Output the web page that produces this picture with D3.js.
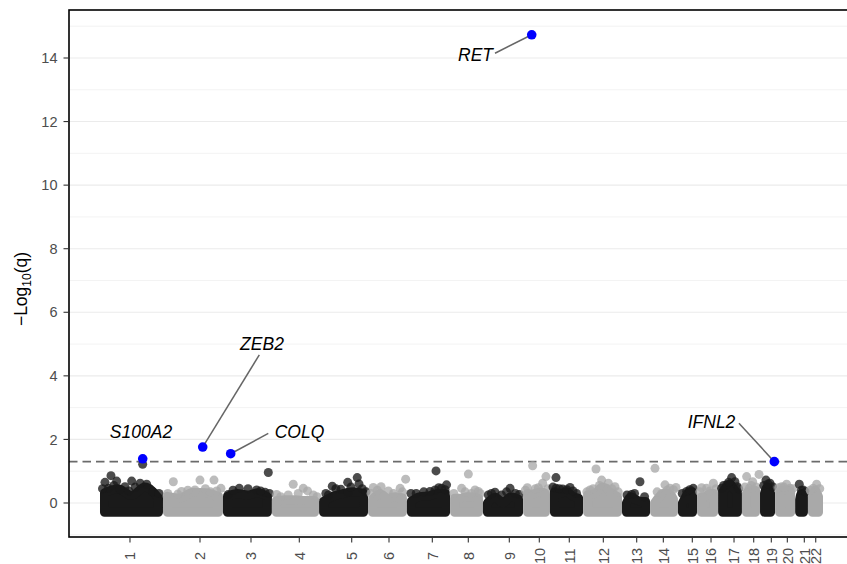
<!DOCTYPE html>
<html>
<head>
<meta charset="utf-8">
<script src="https://cdn.jsdelivr.net/npm/d3@7"></script>
<style>
  body { margin: 0; background: #fff; }
  text { font-family: "Liberation Sans", Arial, Helvetica, sans-serif; }
</style>
</head>
<body>
<svg id="chart" width="847" height="564"></svg>
<script>
// chromosomes, cumulative position (Mb-like units)
var chroms   = d3.range(1, 23).map(String);
var chrStart = [0, 251, 490, 685, 873, 1068, 1223, 1395, 1526, 1686, 1793, 1925, 2080, 2192, 2303, 2379, 2463, 2558, 2630, 2690, 2770, 2821];
var chrEnd   = [251, 490, 685, 873, 1068, 1223, 1395, 1526, 1686, 1793, 1925, 2080, 2192, 2303, 2379, 2463, 2558, 2630, 2690, 2770, 2821, 2881];
var chrTick  = [119.5, 398.5, 601.7, 794.2, 1003, 1151.6, 1324.2, 1467.6, 1631, 1750.5, 1870, 2005.6, 2138.6, 2244.7, 2360.2, 2434.8, 2526.4, 2604.9, 2675, 2738.8, 2806.5, 2852];

// upper envelope of the dense point cloud, per chromosome (-log10 q)
var coreTop = [
  [0.32, 0.45, 0.24, 0.50, 0.16],
  [0.21, 0.16, 0.34, 0.32, 0.21],
  [0.21, 0.30, 0.25, 0.32, 0.20],
  [0.07, 0.10, 0.10, 0.08, 0.08],
  [0.05, 0.22, 0.30, 0.35, 0.30],
  [0.12, 0.30, 0.15, 0.20, 0.16],
  [0.06, 0.20, 0.22, 0.30, 0.30],
  [0.15, 0.15, 0.20, 0.20, 0.15],
  [0.00, 0.18, 0.00, 0.20, 0.12],
  [0.30, 0.28, 0.32, 0.35, 0.30],
  [0.35, 0.30, 0.35, 0.22, 0.15],
  [0.25, 0.30, 0.50, 0.35, 0.20],
  [0.00, 0.20, 0.10, 0.05, 0.05],
  [0.00, 0.20, 0.30, 0.30, 0.12],
  [0.00, 0.15, 0.30, 0.35, 0.35],
  [0.20, 0.20, 0.25, 0.30, 0.30],
  [0.35, 0.50, 0.60, 0.45, 0.30],
  [0.30, 0.38, 0.38, 0.42, 0.40],
  [0.30, 0.45, 0.50, 0.40, 0.30],
  [0.35, 0.40, 0.42, 0.40, 0.35],
  [0.10, 0.25, 0.30, 0.25, 0.20],
  [0.20, 0.35, 0.40, 0.30, 0.20]
];
var coreBottom = -0.29;

// individual SNPs standing out of the cloud: [chromosome, position, -log10 q]
var snps = [
  [1, 43.8, 0.86], [1, 19.9, 0.65], [1, 66.4, 0.69], [1, 126.2, 0.69], [1, 170, 1.22], [1, 186, 0.59], [1, 33, 0.46], [1, 99.6, 0.51],
  [1, 10, 0.45], [1, 55, 0.55], [1, 80, 0.42], [1, 115, 0.38], [1, 140, 0.5], [1, 160, 0.62], [1, 210, 0.35], [1, 235, 0.3],
  [2, 292.2, 0.67], [2, 398.4, 0.72], [2, 454.2, 0.72], [2, 378.5, 0.41], [2, 482, 0.46], [2, 325, 0.36],
  [2, 270, 0.3], [2, 310, 0.28], [2, 350, 0.4], [2, 420, 0.45], [2, 440, 0.35], [2, 465, 0.38],
  [3, 670.7, 0.96], [3, 555, 0.46], [3, 624, 0.41], [3, 657.4, 0.34], [3, 511, 0.27],
  [3, 530, 0.4], [3, 590, 0.45], [3, 640, 0.38], [3, 675, 0.3],
  [4, 770, 0.59], [4, 810, 0.46], [4, 827, 0.38], [4, 704, 0.27], [4, 750, 0.25],
  [4, 720, 0.2], [4, 790, 0.3], [4, 850, 0.25], [4, 865, 0.2],
  [5, 925.6, 0.53], [5, 960, 0.43], [5, 987, 0.65], [5, 1025, 0.80], [5, 1032, 0.60], [5, 989, 0.34], [5, 910, 0.25],
  [5, 900, 0.3], [5, 940, 0.45], [5, 1000, 0.5], [5, 1045, 0.45], [5, 1060, 0.35],
  [6, 1089, 0.49], [6, 1120, 0.51], [6, 1218, 0.75], [6, 1196, 0.46], [6, 1149, 0.38],
  [6, 1080, 0.3], [6, 1105, 0.4], [6, 1170, 0.3], [6, 1205, 0.35],
  [7, 1239, 0.30], [7, 1335, 0.41], [7, 1339, 1.01], [7, 1381, 0.57], [7, 1315, 0.36], [7, 1361, 0.46],
  [7, 1260, 0.3], [7, 1290, 0.35], [7, 1350, 0.48], [7, 1375, 0.42],
  [8, 1467.8, 0.91], [8, 1494.4, 0.41], [8, 1441, 0.46], [8, 1507.5, 0.36],
  [8, 1410, 0.3], [8, 1455, 0.35], [8, 1480, 0.3], [8, 1515, 0.3],
  [9, 1574, 0.34], [9, 1634, 0.46], [9, 1671, 0.27], [9, 1547.5, 0.25],
  [9, 1560, 0.3], [9, 1600, 0.25], [9, 1620, 0.35], [9, 1655, 0.3],
  [10, 1724, 1.17], [10, 1703, 0.48], [10, 1746.7, 0.48], [10, 1777, 0.83], [10, 1764, 0.62],
  [10, 1695, 0.4], [10, 1735, 0.45], [10, 1785, 0.45],
  [11, 1817, 0.80], [11, 1817, 0.46], [11, 1843.6, 0.44], [11, 1873, 0.49], [11, 1899, 0.30],
  [11, 1805, 0.5], [11, 1830, 0.45], [11, 1860, 0.42], [11, 1885, 0.38],
  [12, 1976.4, 1.07], [12, 1999, 0.72], [12, 1952.5, 0.41], [12, 2052, 0.51], [12, 2019, 0.46], [12, 2025.6, 0.62],
  [12, 1940, 0.35], [12, 1965, 0.45], [12, 1990, 0.55], [12, 2040, 0.45], [12, 2065, 0.35],
  [13, 2151.7, 0.67], [13, 2118.5, 0.27], [13, 2100, 0.25], [13, 2130, 0.3], [13, 2170, 0.2],
  [14, 2211.5, 1.09], [14, 2251.3, 0.57], [14, 2295, 0.49], [14, 2238, 0.30], [14, 2271, 0.46],
  [14, 2220, 0.35], [14, 2260, 0.4], [14, 2285, 0.42],
  [15, 2337.6, 0.36], [15, 2364, 0.46], [15, 2320, 0.3], [15, 2350, 0.42],
  [16, 2397.4, 0.48], [16, 2444, 0.62], [16, 2417, 0.46], [16, 2390, 0.35], [16, 2430, 0.38], [16, 2455, 0.45],
  [17, 2517, 0.80], [17, 2530, 0.67], [17, 2497, 0.57], [17, 2539.5, 0.51], [17, 2477, 0.46],
  [17, 2485, 0.55], [17, 2505, 0.65], [17, 2545, 0.45],
  [18, 2576.7, 0.83], [18, 2600.6, 0.67], [18, 2626, 0.90], [18, 2587, 0.46],
  [18, 2570, 0.5], [18, 2595, 0.55], [18, 2615, 0.5],
  [19, 2653.7, 0.72], [19, 2669.6, 0.62], [19, 2680, 0.51], [19, 2645, 0.55], [19, 2662, 0.6],
  [20, 2716, 0.51], [20, 2749, 0.46], [20, 2736, 0.59], [20, 2705, 0.48], [20, 2725, 0.5], [20, 2760, 0.45],
  [21, 2786.5, 0.59], [21, 2802, 0.41], [21, 2795, 0.4], [21, 2812, 0.35],
  [22, 2855.6, 0.59], [22, 2842, 0.46], [22, 2830, 0.4], [22, 2868, 0.45]
];

// significant genes
var hitGene = ["S100A2", "ZEB2", "COLQ", "RET", "IFNL2"];
var hitPos  = [170.2, 409.3, 520.8, 1720.3, 2687];
var hitVal  = [1.39, 1.76, 1.55, 14.73, 1.30];
// where the repelled labels ended up, and where their leader lines start
var labelPos = [163.4, 645.6, 795, 1496.4, 2436.8];
var labelVal = [2.23, 5.00, 2.25, 14.09, 2.56];
var segPos   = [null, 634.8, 670.7, 1574, 2546];
var segVal   = [null, 4.66, 2.19, 14.15, 2.51];

var yTicks = [0, 2, 4, 6, 8, 10, 12, 14];
var yMinor = [-1, 1, 3, 5, 7, 9, 11, 13, 15];
var qCut = -Math.log10(0.05);

var svg = d3.select("#chart");
var r = 4.5;

var x = d3.scaleLinear().domain([-123.5, 3004.5]).range([69, 854]);
var y = d3.scaleLinear().domain([-1.07, 15.51]).range([537, 10]);

var colDark = "#1a1a1a", colLight = "#a9a9a9";
function chrCol(c) { return c % 2 === 1 ? colDark : colLight; }

// grid
svg.append("g").selectAll("line").data(yMinor).join("line")
    .attr("x1", 69).attr("x2", 854)
    .attr("y1", d => y(d)).attr("y2", d => y(d))
    .attr("stroke", "#ebebeb").attr("stroke-width", 0.6);
svg.append("g").selectAll("line").data(yTicks).join("line")
    .attr("x1", 69).attr("x2", 854)
    .attr("y1", d => y(d)).attr("y2", d => y(d))
    .attr("stroke", "#ebebeb").attr("stroke-width", 1.1);

// significance threshold
svg.append("line")
    .attr("x1", 69).attr("x2", 854)
    .attr("y1", y(qCut)).attr("y2", y(qCut))
    .attr("stroke", "#6b6b6b").attr("stroke-width", 1.6)
    .attr("stroke-dasharray", "8.5,5");

// point cloud, chromosome by chromosome
var plot = svg.append("g");
chroms.forEach(function(name, i) {
  var c = i + 1, col = chrCol(c);
  var px0 = x(chrStart[i]) + r, px1 = x(chrEnd[i]) - r;
  var prof = coreTop[i];
  var pts = prof.map((v, j) => [px0 + (px1 - px0) * j / (prof.length - 1), v]);
  var area = d3.area()
      .x(d => d[0]).y0(y(coreBottom)).y1(d => y(d[1]))
      .curve(d3.curveMonotoneX);
  plot.append("path")
      .attr("d", area(pts))
      .attr("fill", col).attr("stroke", col)
      .attr("stroke-width", 2 * r).attr("stroke-linejoin", "round");
  plot.append("g").selectAll("circle")
      .data(snps.filter(s => s[0] === c)).join("circle")
      .attr("cx", d => x(d[1])).attr("cy", d => y(d[2])).attr("r", r)
      .attr("fill", col).attr("fill-opacity", 0.78);
});

// leader lines and labels
var hits = hitGene.map((g, i) => ({gene: g, pos: hitPos[i], val: hitVal[i],
  lp: labelPos[i], lv: labelVal[i], sp: segPos[i], sv: segVal[i]}));

svg.append("g").selectAll("line").data(hits.filter(d => d.sp !== null)).join("line")
    .attr("x1", d => x(d.sp)).attr("y1", d => y(d.sv))
    .attr("x2", d => x(d.pos)).attr("y2", d => y(d.val))
    .attr("stroke", "#666").attr("stroke-width", 1.5);

svg.append("g").selectAll("circle").data(hits).join("circle")
    .attr("cx", d => x(d.pos)).attr("cy", d => y(d.val)).attr("r", r + 0.3)
    .attr("fill", "#0000ff");

svg.append("g").selectAll("text").data(hits).join("text")
    .attr("x", d => x(d.lp)).attr("y", d => y(d.lv))
    .attr("dy", "0.36em")
    .attr("text-anchor", "middle")
    .attr("font-style", "italic").attr("font-size", 17.5)
    .attr("fill", "#000")
    .text(d => d.gene);

// panel border
svg.append("rect")
    .attr("x", 69).attr("y", 10).attr("width", 785).attr("height", 527)
    .attr("fill", "none").attr("stroke", "#000").attr("stroke-width", 1.6);

// y axis
var gy = svg.append("g");
gy.selectAll("line").data(yTicks).join("line")
    .attr("x1", 63.5).attr("x2", 69)
    .attr("y1", d => y(d)).attr("y2", d => y(d))
    .attr("stroke", "#333").attr("stroke-width", 1.1);
gy.selectAll("text").data(yTicks).join("text")
    .attr("x", 57.5).attr("y", d => y(d)).attr("dy", "0.36em")
    .attr("text-anchor", "end").attr("font-size", 14.5).attr("fill", "#4d4d4d")
    .text(d => d);

// x axis
var gx = svg.append("g");
gx.selectAll("line").data(chrTick).join("line")
    .attr("x1", d => x(d)).attr("x2", d => x(d))
    .attr("y1", 537).attr("y2", 542.5)
    .attr("stroke", "#333").attr("stroke-width", 1.1);
gx.selectAll("text").data(chroms).join("text")
    .attr("transform", (d, i) => "translate(" + x(chrTick[i]) + ",556) rotate(-90)")
    .attr("dy", "0.36em")
    .attr("text-anchor", "middle").attr("font-size", 14.5).attr("fill", "#4d4d4d")
    .text(d => d);

// y title: -Log10(q)
var title = svg.append("text")
    .attr("transform", "translate(27,289) rotate(-90)")
    .attr("text-anchor", "middle").attr("font-size", 17.5).attr("fill", "#000");
title.append("tspan").text("\u2212Log");
title.append("tspan").attr("font-size", 12).attr("dy", 4).text("10");
title.append("tspan").attr("dy", -4).text("(q)");
</script>
</body>
</html>
